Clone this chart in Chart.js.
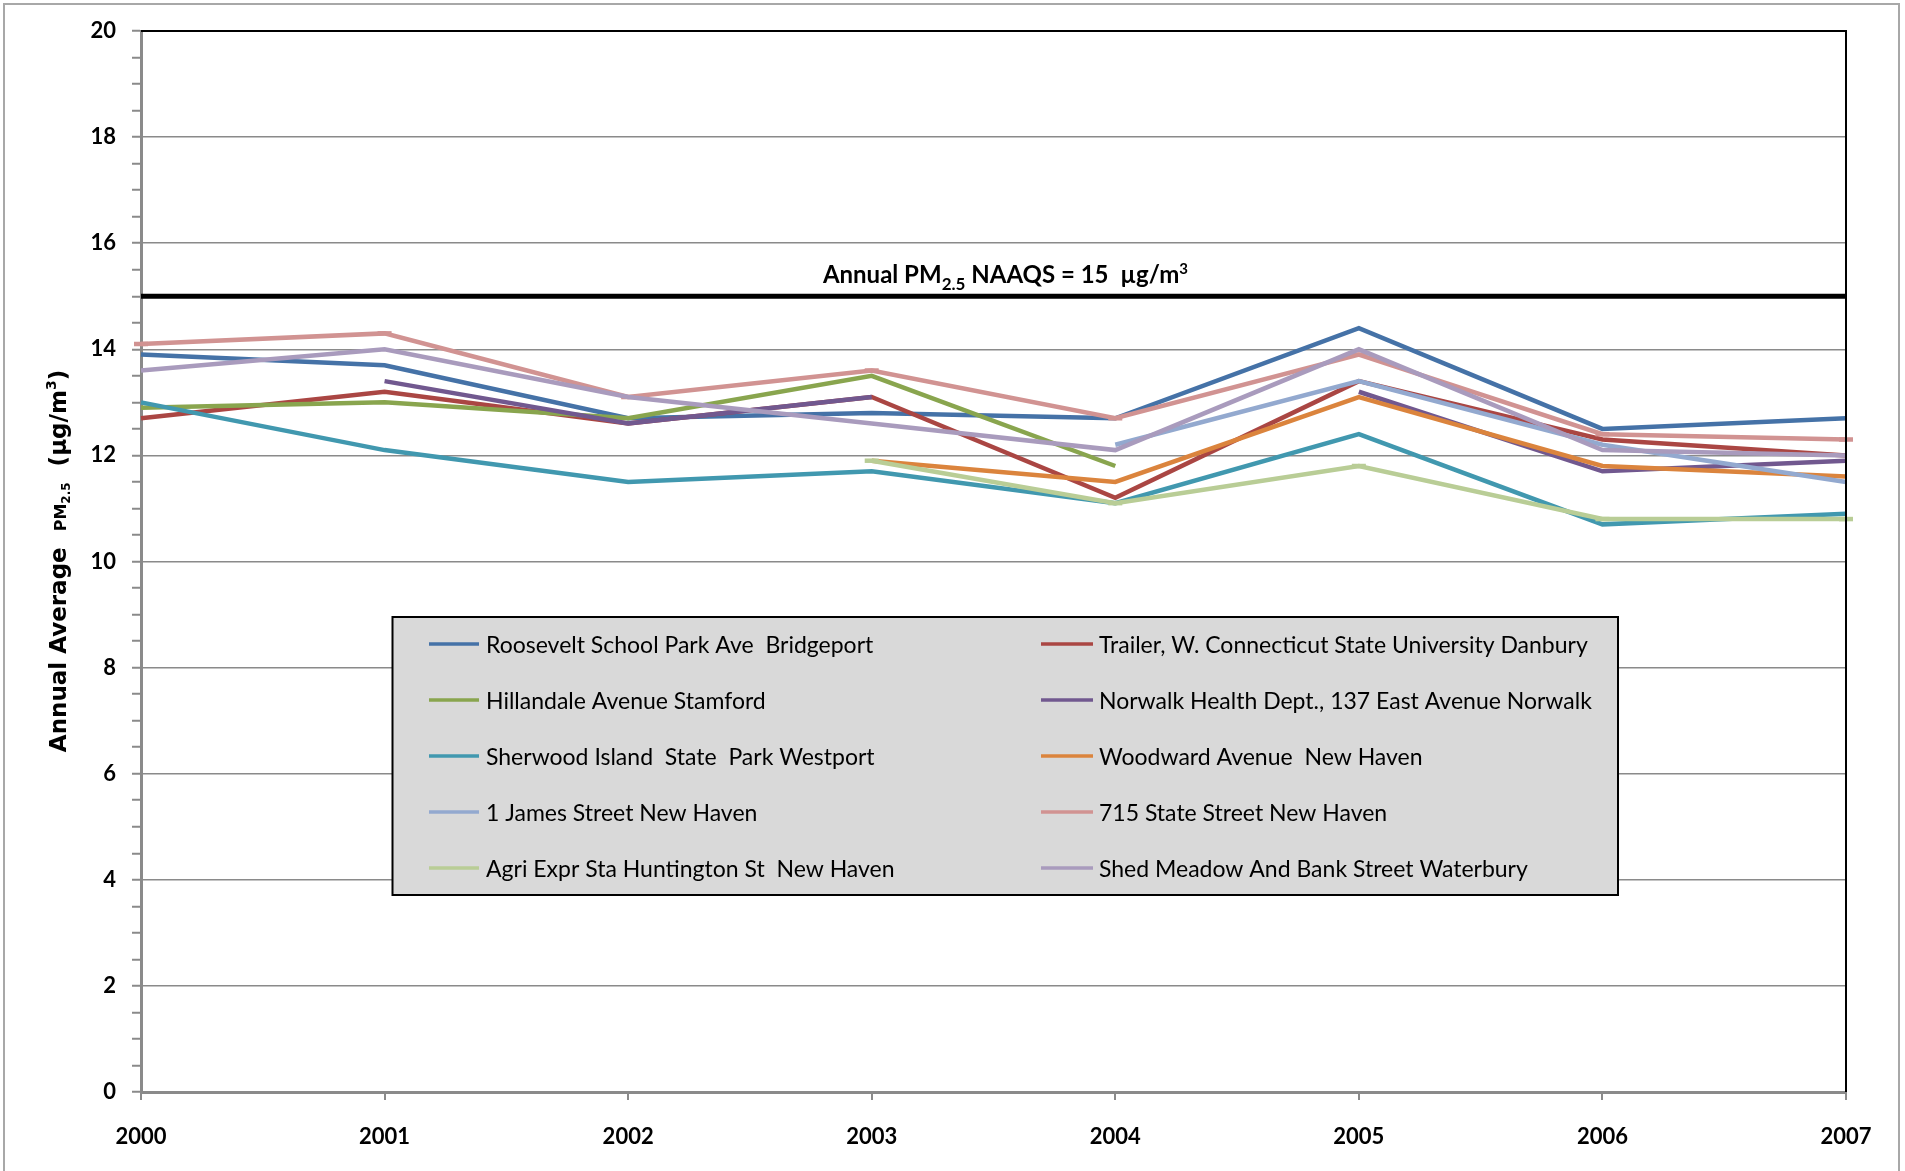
<!DOCTYPE html>
<html>
<head>
<meta charset="utf-8">
<title>Annual Average PM2.5 – Connecticut monitoring sites, 2000–2007</title>
<script src="https://cdn.jsdelivr.net/npm/chart.js@4/dist/chart.umd.min.js"></script>
<style>
  html, body { margin: 0; padding: 0; background: #fff; overflow: hidden; }
  #wrap { position: absolute; left: 0; top: 0; width: 1905px; height: 1171px; }
  #frame { position: absolute; left: 3px; top: 3px; width: 1897px; height: 1200px;
           border: 2px solid #a8a8a8; box-sizing: border-box; }
  #c { position: absolute; left: 0; top: 0; }
</style>
</head>
<body>
<div id="wrap">
  <div id="frame"></div>
  <canvas id="c" width="1905" height="1171"></canvas>
</div>
<script>
// ---- data ----
const years = ['2000', '2001', '2002', '2003', '2004', '2005', '2006', '2007'];

const roosevelt = [13.9, 13.7, 12.7, 12.8, 12.7, 14.4, 12.5, 12.7];
const danbury   = [12.7, 13.2, 12.6, 13.1, 11.2, 13.4, 12.3, 12.0];
const stamford  = [12.9, 13.0, 12.7, 13.5, 11.8, null, null, null];
const norwalk   = [null, 13.4, 12.6, 13.1, null, 13.2, 11.7, 11.9];
const westport  = [13.0, 12.1, 11.5, 11.7, 11.1, 12.4, 10.7, 10.9];
const woodward  = [null, null, null, 11.9, 11.5, 13.1, 11.8, 11.6];
const james     = [null, null, null, null, 12.2, 13.4, 12.2, 11.5];
const stateSt   = [14.1, 14.3, 13.1, 13.6, 12.7, 13.9, 12.4, 12.3];
const agri      = [null, null, null, 11.9, 11.1, 11.8, 10.8, 10.8];
const waterbury = [13.6, 14.0, 13.1, 12.6, 12.1, 14.0, 12.1, 12.0];

const siteNames = [
  'Roosevelt School Park Ave  Bridgeport',
  'Trailer, W. Connecticut State University Danbury',
  'Hillandale Avenue Stamford',
  'Norwalk Health Dept., 137 East Avenue Norwalk',
  'Sherwood Island  State  Park Westport',
  'Woodward Avenue  New Haven',
  '1 James Street New Haven',
  '715 State Street New Haven',
  'Agri Expr Sta Huntington St  New Haven',
  'Shed Meadow And Bank Street Waterbury'
];
const siteValues = [roosevelt, danbury, stamford, norwalk, westport, woodward, james, stateSt, agri, waterbury];
const siteColors = ['#4572A7', '#AA4643', '#89A54E', '#71588F', '#4198AF',
                    '#DB843D', '#93A9CF', '#D19392', '#B9CD96', '#A99BBD'];
const dashMarked = [false, false, false, false, false, false, false, true, true, false];

const NAAQS = 15;
const yTickValues = [];
for (let v = 0; v <= 20; v += 0.5) yTickValues.push(v);

// ---- styling ----
const AXIS_GRAY = '#8a8a8a';
const TICK_FONT = { family: 'Lato', size: 22, weight: 'bold' };

const datasets = siteNames.map((name, i) => ({
  label: name,
  data: siteValues[i],
  borderColor: siteColors[i],
  backgroundColor: siteColors[i],
  borderWidth: 4.5,
  pointRadius: dashMarked[i] ? 7 : 0,
  pointStyle: 'line',
  pointBorderWidth: 4.5,
  pointBorderColor: siteColors[i],
  pointHoverRadius: 0,
  tension: 0,
  spanGaps: false,
  clip: false,
  order: siteNames.length - i
}));

function measureParts(ctx, parts, family, weight) {
  let w = 0;
  parts.forEach(p => {
    ctx.font = `${weight} ${p.size}px "${family}"`;
    p.w = ctx.measureText(p.t).width;
    w += p.w;
  });
  return w;
}
function drawParts(ctx, parts, family, weight, cx, baseline) {
  const total = measureParts(ctx, parts, family, weight);
  let x = cx - total / 2;
  ctx.fillStyle = '#000';
  ctx.textBaseline = 'alphabetic';
  ctx.textAlign = 'left';
  parts.forEach(p => {
    ctx.font = `${weight} ${p.size}px "${family}"`;
    ctx.fillText(p.t, x, baseline + p.dy);
    x += p.w;
  });
}

// Horizontal standard line and its caption
const naaqsPlugin = {
  id: 'naaqs',
  beforeDatasetsDraw(chart) {
    const { ctx, chartArea, scales } = chart;
    const y = scales.y.getPixelForValue(NAAQS);
    ctx.save();
    ctx.strokeStyle = '#000';
    ctx.lineWidth = 5;
    ctx.beginPath();
    ctx.moveTo(chartArea.left, y);
    ctx.lineTo(chartArea.right, y);
    ctx.stroke();

    const parts = [
      { t: 'Annual PM', size: 24, dy: 0 },
      { t: '2.5', size: 17, dy: 7 },
      { t: ' NAAQS = 15  \u00b5g/m', size: 24, dy: 0 },
      { t: '3', size: 15, dy: -9 }
    ];
    drawParts(ctx, parts, 'Lato', 'bold',
      chartArea.left + chartArea.width * 0.507, y - 13);
    ctx.restore();
  }
};

// Plot frame: black top and right edges
const framePlugin = {
  id: 'frame',
  afterDatasetsDraw(chart) {
    const { ctx, chartArea } = chart;
    ctx.save();
    ctx.strokeStyle = '#000';
    ctx.lineWidth = 2;
    ctx.beginPath();
    ctx.moveTo(chartArea.left, chartArea.top);
    ctx.lineTo(chartArea.right, chartArea.top);
    ctx.lineTo(chartArea.right, chartArea.bottom);
    ctx.stroke();
    ctx.restore();
  }
};

// Boxed two-column legend inside the plot
const boxLegendPlugin = {
  id: 'boxLegend',
  beforeDatasetsDraw(chart) {
    const { ctx } = chart;
    const box = { x: 392.5, y: 617, w: 1225.5, h: 278 };
    const cols = [{ sx: 429, ex: 479, tx: 486 }, { sx: 1041, ex: 1093, tx: 1099 }];
    const rowY0 = 644, rowStep = 56;
    ctx.save();
    ctx.fillStyle = '#D9D9D9';
    ctx.fillRect(box.x, box.y, box.w, box.h);
    ctx.strokeStyle = '#000';
    ctx.lineWidth = 2;
    ctx.strokeRect(box.x, box.y, box.w, box.h);
    ctx.font = '23px "Lato"';
    ctx.textBaseline = 'middle';
    ctx.textAlign = 'left';
    chart.data.datasets.forEach((ds, i) => {
      const c = cols[i % 2];
      const y = rowY0 + Math.floor(i / 2) * rowStep;
      ctx.strokeStyle = ds.borderColor;
      ctx.lineWidth = 3.5;
      ctx.beginPath();
      ctx.moveTo(c.sx, y);
      ctx.lineTo(c.ex, y);
      ctx.stroke();
      ctx.fillStyle = '#000';
      ctx.fillText(ds.label, c.tx, y + 2);
    });
    ctx.restore();
  }
};

// Rotated y-axis title with subscript and superscript
const yTitlePlugin = {
  id: 'yTitle',
  afterDraw(chart) {
    const { ctx } = chart;
    const parts = [
      { t: 'Annual Average  ', size: 23, dy: 0 },
      { t: 'PM', size: 16, dy: 0 },
      { t: '2.5', size: 12, dy: 4 },
      { t: '  (\u00b5g/m', size: 23, dy: 0 },
      { t: '3', size: 14, dy: -10 },
      { t: ')', size: 23, dy: 0 }
    ];
    ctx.save();
    ctx.translate(66, 561);
    ctx.rotate(-Math.PI / 2);
    drawParts(ctx, parts, 'DejaVu Sans', 'bold', 0, 0);
    ctx.restore();
  }
};

new Chart(document.getElementById('c'), {
  type: 'line',
  data: { labels: years, datasets },
  options: {
    responsive: false,
    animation: false,
    devicePixelRatio: 1,
    layout: { padding: { top: 31, right: 59, left: 0, bottom: 0 } },
    plugins: {
      legend: { display: false },
      tooltip: { enabled: false },
      title: { display: false }
    },
    scales: {
      x: {
        type: 'category',
        offset: false,
        afterFit(s) { s.height = 79; },
        border: { display: true, color: AXIS_GRAY, width: 3 },
        grid: { drawOnChartArea: false, drawTicks: true, tickLength: 8,
                color: AXIS_GRAY, lineWidth: 2 },
        ticks: { color: '#000', font: TICK_FONT, padding: 24,
                 maxRotation: 0, autoSkip: false }
      },
      y: {
        type: 'linear',
        min: 0,
        max: 20,
        afterFit(s) { s.width = 141; },
        afterBuildTicks(s) { s.ticks = yTickValues.map(v => ({ value: v })); },
        border: { display: true, color: AXIS_GRAY, width: 3 },
        grid: {
          drawTicks: true,
          tickLength: 9,
          lineWidth: 1.5,
          color: c => (c.tick && c.tick.value % 2 === 0)
            ? (c.tick.value === 20 ? '#000' : AXIS_GRAY) : 'rgba(0,0,0,0)',
          tickColor: AXIS_GRAY,
          tickWidth: 2
        },
        ticks: {
          color: '#000',
          font: TICK_FONT,
          padding: 16,
          autoSkip: false,
          callback: v => (v % 2 === 0 ? String(v) : '')
        }
      }
    }
  },
  plugins: [boxLegendPlugin, naaqsPlugin, framePlugin, yTitlePlugin]
});
</script>
</body>
</html>
